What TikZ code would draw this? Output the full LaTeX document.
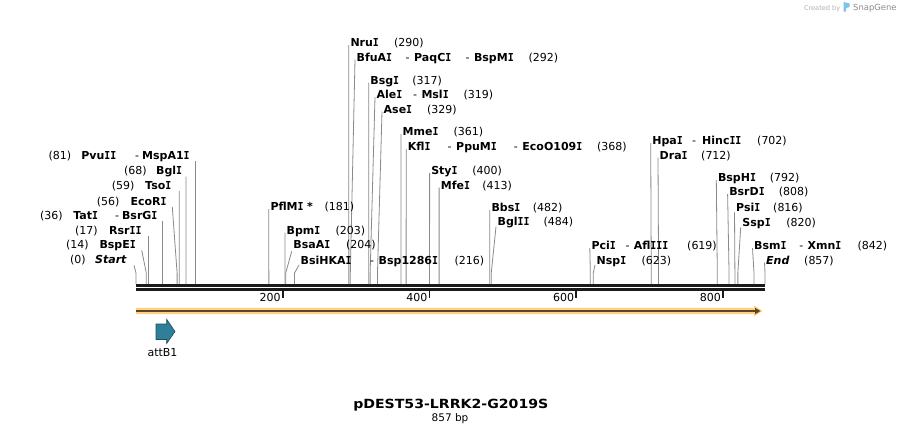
\documentclass[tikz,border=0pt]{standalone}
\usepackage{fontspec}
\setmainfont{DejaVu Sans}
\newfontfamily\titlefont{DejaVu Sans}[FakeStretch=1.12]
\newfontfamily\monoI{DejaVu Sans Mono}[FakeStretch=0.9]
\definecolor{bb}{HTML}{1A1A1A}
\definecolor{connc}{HTML}{8A8A8A}
\definecolor{orf}{HTML}{FFD080}
\definecolor{orfd}{HTML}{5C4526}
\definecolor{attb}{HTML}{2F7F98}
\definecolor{attbd}{HTML}{1E4F60}
\definecolor{wmgray}{HTML}{B0B0B0}
\definecolor{wmdark}{HTML}{8C8C8C}
\definecolor{wmblue}{HTML}{7CC4F0}
% a part of a label placed at a fixed offset (pt) from the label's start
\newcommand{\lbpart}[2]{\makebox[0pt][l]{\hspace{#1pt}#2}}
\newcommand{\enz}[1]{\textbf{#1}}
% serifed capital I, as in the enzyme names
\newcommand{\vI}{{\monoI\bfseries I}}
% right-hand enzyme label: id, bp, left x, centre y, text, start yshift
\newcommand{\renz}[6]{%
  \node[lab, anchor=base west] (#1) at (#3, #4+4) {#5};
  \coordinate (#1k) at ({136+#2*0.73396}, 273);
  \coordinate (#1b) at ({136+#2*0.73396}, 284);
  \draw[conn] ([xshift=-1pt, yshift=#6]#1.base west) -- (#1k) -- (#1b);
}
% left-hand enzyme label: id, bp, text start x, line start x, centre y, text
\newcommand{\lenz}[6]{%
  \node[lab, anchor=base west] (#1) at (#3, #5+4) {#6};
  \coordinate (#1s) at (#4, #5+6);
  \coordinate (#1k) at ({136+#2*0.73396}, 273);
  \coordinate (#1b) at ({136+#2*0.73396}, 284);
  \draw[conn] (#1s) -- (#1k) -- (#1b);
}
\begin{document}
\begin{tikzpicture}[x=1pt,y=-1pt,
  lab/.style={inner sep=0pt, font=\fontsize{11}{13}\selectfont, text=black},
  conn/.style={draw=connc, line width=0.8pt},
  backbone/.style={draw=bb, line width=2.7pt},
  tickmark/.style={draw=bb, line width=1.8pt},
  ticklab/.style={inner sep=0pt, font=\fontsize{11}{13}\selectfont, anchor=base east}]
\useasboundingbox (0,0) rectangle (901,434);
\fill[white] (0,0) rectangle (901,434);

% watermark
\node[inner sep=0pt, anchor=base east, text=wmgray, font=\fontsize{6.6}{8}\selectfont] (created) at (840.5,10) {Created by};
\fill[wmblue] (843.5,2) -- (849.5,3.5) -- (849.5,7) -- (846,8) -- (846,11.7) -- (843.5,11.7) -- cycle;
\node[inner sep=0pt, anchor=base west, text=wmdark, font=\fontsize{8.4}{10}\selectfont] (snapgene) at (853,10.3) {SnapGene};

% backbone
\coordinate (bbL1) at (136,285.3); \coordinate (bbR1) at (765,285.3);
\coordinate (bbL2) at (136,289.2); \coordinate (bbR2) at (765,289.2);
\draw[backbone] (bbL1) -- (bbR1);
\draw[backbone] (bbL2) -- (bbR2);

% ticks
\foreach \v in {200,400,600,800}{
  \coordinate (t\v) at ({136+\v*0.73396}, 290);
  \coordinate (tb\v) at ({136+\v*0.73396}, 297.5);
  \draw[tickmark] (t\v) -- (tb\v);
  \node[ticklab] (tl\v) at ({136+\v*0.73396-2}, 301.5) {\v};
}

% ORF arrow
\fill[orf] (136,307.8) -- (754,307.8) -- (754,305.5) -- (762.5,311) -- (754,316.5) -- (754,314.2) -- (136,314.2) -- cycle;
\coordinate (orfS) at (136,311); \coordinate (orfE) at (756,311);
\draw[orfd, line width=1.6pt] (orfS) -- (orfE);
\fill[orfd] (755,307.8) -- (760.5,311) -- (755,314.2) -- cycle;

% attB1 feature
\draw[fill=attb, draw=attbd, line width=0.6pt] (156,324) -- (166.7,324) -- (166.7,319.3) -- (175,331.5) -- (166.7,343.5) -- (166.7,339.5) -- (156,339.5) -- cycle;
\node[lab, anchor=base] (attB1) at (162.5, 356.5) {attB1};

% right-hand labels
\renz{NruI}{290}{349.8}{42.5}{\lbpart{0}{\enz{Nru\vI}}\lbpart{43.5}{(290)}}{1.5pt}
\renz{BfuAI}{292}{356}{57}{\lbpart{0}{\enz{BfuA\vI}}\lbpart{49}{-}\lbpart{57.5}{\enz{PaqC\vI}}\lbpart{108.8}{-}\lbpart{117.3}{\enz{BspM\vI}}\lbpart{172}{(292)}}{1.5pt}
\renz{BsgI}{317}{369.7}{80}{\lbpart{0}{\enz{Bsg\vI}}\lbpart{42}{(317)}}{1.5pt}
\renz{AleI}{319}{376}{94.5}{\lbpart{0}{\enz{Ale\vI}}\lbpart{36.3}{-}\lbpart{44.8}{\enz{Msl\vI}}\lbpart{87}{(319)}}{1.5pt}
\renz{AseI}{329}{383}{109}{\lbpart{0}{\enz{Ase\vI}}\lbpart{43.5}{(329)}}{1.5pt}
\renz{MmeI}{361}{402}{131.5}{\lbpart{0}{\enz{Mme\vI}}\lbpart{51}{(361)}}{1.5pt}
\renz{KflI}{368}{407.2}{146.5}{\lbpart{0}{\enz{Kfl\vI}}\lbpart{39.8}{-}\lbpart{48.3}{\enz{PpuM\vI}}\lbpart{106}{-}\lbpart{114.5}{\enz{EcoO109\vI}}\lbpart{189.3}{(368)}}{1.5pt}
\renz{StyI}{400}{430.6}{170.5}{\lbpart{0}{\enz{Sty\vI}}\lbpart{41}{(400)}}{1.5pt}
\renz{MfeI}{413}{440.1}{185}{\lbpart{0}{\enz{Mfe\vI}}\lbpart{41.5}{(413)}}{1.5pt}
\renz{BbsI}{482}{490.8}{207.3}{\lbpart{0}{\enz{Bbs\vI}}\lbpart{41.3}{(482)}}{1.5pt}
\renz{BglII}{484}{497}{221.7}{\lbpart{0}{\enz{Bgl\vI\vI}}\lbpart{46}{(484)}}{-1pt}
\renz{PflMI}{181}{269.8}{206.7}{\lbpart{0}{\enz{PflM\vI}}\lbpart{36.5}{\enz{*}}\lbpart{54}{(181)}}{1.5pt}
\renz{BpmI}{203}{286}{230}{\lbpart{0}{\enz{Bpm\vI}}\lbpart{48.8}{(203)}}{1.5pt}
\renz{BsaAI}{204}{292.7}{244.3}{\lbpart{0}{\enz{BsaA\vI}}\lbpart{52.8}{(204)}}{-3pt}
\renz{BsiHKAI}{216}{300}{260}{\lbpart{0}{\enz{BsiHKA\vI}}\lbpart{69.5}{-}\lbpart{78}{\enz{Bsp1286\vI}}\lbpart{153.8}{(216)}}{-1pt}
\renz{HpaI}{702}{651.7}{140.7}{\lbpart{0}{\enz{Hpa\vI}}\lbpart{39.8}{-}\lbpart{49.8}{\enz{Hinc\vI\vI}}\lbpart{104.8}{(702)}}{1.5pt}
\renz{DraI}{712}{659}{155}{\lbpart{0}{\enz{Dra\vI}}\lbpart{41.5}{(712)}}{1.5pt}
\renz{BspHI}{792}{717.3}{177.3}{\lbpart{0}{\enz{BspH\vI}}\lbpart{51.8}{(792)}}{1.5pt}
\renz{BsrDI}{808}{728.6}{191.7}{\lbpart{0}{\enz{BsrD\vI}}\lbpart{49.5}{(808)}}{1.5pt}
\renz{PsiI}{816}{735.5}{207.3}{\lbpart{0}{\enz{Psi\vI}}\lbpart{37}{(816)}}{-1pt}
\renz{SspI}{820}{741.7}{222.3}{\lbpart{0}{\enz{Ssp\vI}}\lbpart{44}{(820)}}{-1pt}
\renz{PciI}{619}{590.8}{245.7}{\lbpart{0}{\enz{Pci\vI}}\lbpart{34}{-}\lbpart{42.3}{\enz{Afl\vI\vI\vI}}\lbpart{95.7}{(619)}}{1.5pt}
\renz{NspI}{623}{596}{260}{\lbpart{0}{\enz{Nsp\vI}}\lbpart{44.8}{(623)}}{-1pt}
\renz{BsmI}{842}{753.5}{245.7}{\lbpart{0}{\enz{Bsm\vI}}\lbpart{45.2}{-}\lbpart{53.5}{\enz{Xmn\vI}}\lbpart{103.3}{(842)}}{1.5pt}
\renz{End}{857}{765.5}{260}{\lbpart{0}{\enz{\itshape End}}\lbpart{38}{(857)}}{1.5pt}

% left-hand labels
\lenz{PvuII}{81}{47.8}{195.5}{155}{\lbpart{0}{(81)}\lbpart{32.9}{\enz{Pvu\vI\vI}}\lbpart{86.5}{-}\lbpart{93.7}{\enz{MspA1\vI}}}
\lenz{BglI}{68}{123.5}{185.9}{170.7}{\lbpart{0}{(68)}\lbpart{32}{\enz{Bgl\vI}}}
\lenz{TsoI}{59}{111.2}{179.3}{185}{\lbpart{0}{(59)}\lbpart{33.3}{\enz{Tso\vI}}}
\lenz{EcoRI}{56}{96.2}{172.3}{201}{\lbpart{0}{(56)}\lbpart{33.6}{\enz{EcoR\vI}}}
\lenz{TatI}{36}{39.5}{162.4}{215}{\lbpart{0}{(36)}\lbpart{33.2}{\enz{Tat\vI}}\lbpart{75}{-}\lbpart{81.9}{\enz{BsrG\vI}}}
\lenz{RsrII}{17}{74.5}{148.5}{230}{\lbpart{0}{(17)}\lbpart{34}{\enz{Rsr\vI\vI}}}
\lenz{BspEI}{14}{65.5}{141.7}{244.3}{\lbpart{0}{(14)}\lbpart{33.3}{\enz{BspE\vI}}}
\lenz{Start}{0}{69.5}{134}{259.3}{\lbpart{0}{(0)}\lbpart{25}{\enz{\itshape Start}}}

% title
\node[inner sep=0pt, anchor=base, font=\titlefont\bfseries\fontsize{12.6}{15}\selectfont] (title) at (450.8, 408) {pDEST53-LRRK2-G2019S};
\node[inner sep=0pt, anchor=base, font=\fontsize{10.5}{12}\selectfont] (len) at (450, 421) {857 bp};
\end{tikzpicture}
\end{document}
